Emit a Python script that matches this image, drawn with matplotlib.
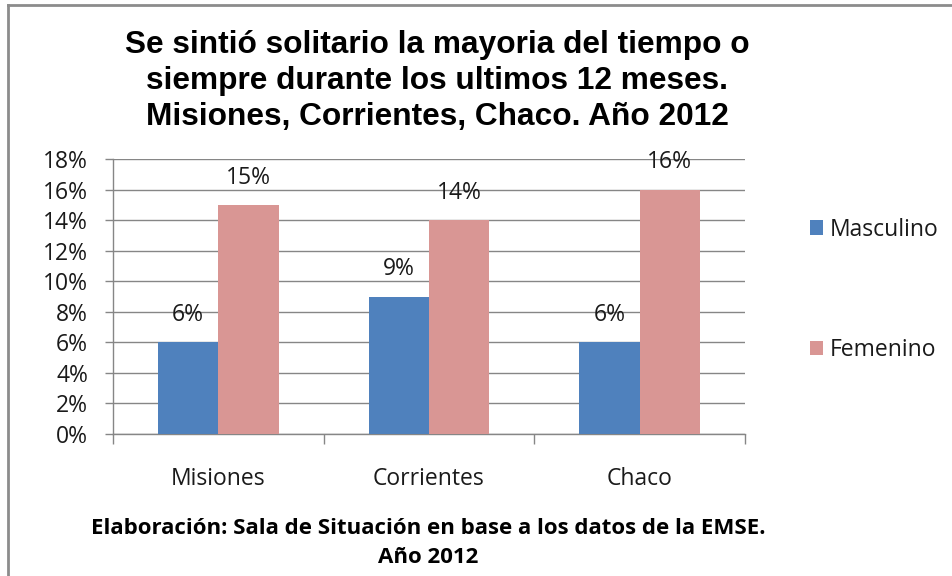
import matplotlib
matplotlib.use("Agg")
import matplotlib.pyplot as plt
from matplotlib.lines import Line2D
import numpy as np

categories = ["Misiones", "Corrientes", "Chaco"]
masculino = [6, 9, 6]
femenino = [15, 14, 16]
series_names = ["Masculino", "Femenino"]
yticks = [0, 2, 4, 6, 8, 10, 12, 14, 16, 18]
title = ("Se sintió solitario la mayoria del tiempo o\n"
         "siempre durante los ultimos 12 meses.\n"
         "Misiones, Corrientes, Chaco. Año 2012")
footer = ("Elaboración: Sala de Situación en base a los datos de la EMSE.\n"
          "Año 2012")

BLUE = "#4F81BD"
PINK = "#D99694"
GRID = "#868686"
TXT = "#1a1a1a"
body_font = "Open Sans"
FS = 16.5

fig = plt.figure(figsize=(9.52, 5.76), dpi=100)
ax = fig.add_axes([113/952, 1-434/576, (745-113)/952, (434-159)/576])

x = np.arange(len(categories)) + 0.5
w = 0.287
b1 = ax.bar(x - w/2, masculino, w, color=BLUE, label=series_names[0], zorder=3)
b2 = ax.bar(x + w/2, femenino, w, color=PINK, label=series_names[1], zorder=3)

for bars, vals in ((b1, masculino), (b2, femenino)):
    for r, v in zip(bars, vals):
        ax.annotate(f"{v}%", (r.get_x() + r.get_width()/2, v),
                    xytext=(0, 19.5), textcoords="offset points",
                    ha="center", va="center", fontsize=FS,
                    family=body_font, color=TXT, zorder=4)

ax.set_xlim(0, 3)
ax.set_ylim(0, 18)
ax.set_yticks(yticks)
ax.set_yticklabels([f"{t}%" for t in yticks], family=body_font, fontsize=FS, color=TXT)
ax.yaxis.grid(True, color=GRID, linewidth=1.0, zorder=0)
ax.set_axisbelow(True)

ax.set_xticks([0, 1, 2, 3])
ax.set_xticklabels([])
ax.set_xticks(x, minor=True)
ax.set_xticklabels(categories, minor=True, family=body_font, fontsize=FS, color=TXT)
ax.tick_params(axis="x", which="minor", length=0, pad=24)
ax.tick_params(axis="x", which="major", length=7, color=GRID, width=1)
ax.tick_params(axis="y", length=6, color=GRID, width=1, pad=12)

for s in ("top", "right"):
    ax.spines[s].set_visible(False)
for s in ("left", "bottom"):
    ax.spines[s].set_color(GRID)
    ax.spines[s].set_linewidth(1)

leg = ax.legend(loc="upper left", bbox_to_anchor=(789/952, 1-197/576),
                bbox_transform=fig.transFigure, frameon=False,
                prop={"family": body_font, "size": FS},
                handlelength=0.6, handleheight=0.6, handletextpad=0.3,
                labelspacing=4.2)
for t in leg.get_texts():
    t.set_color(TXT)

fig.text(437/952, 1-81/576, title, ha="center", va="center",
         family="Liberation Sans", fontweight="bold", fontsize=22.8,
         linespacing=1.26, color="black")

fig.text(428/952, 1-543/576, footer, ha="center", va="center",
         family=body_font, fontweight="bold", fontsize=16,
         linespacing=1.5, color="black")

# outer frame lines (top and left)
fig.add_artist(Line2D([8/952, 1], [1-4.5/576, 1-4.5/576], transform=fig.transFigure,
                      color="#8c8c8c", linewidth=2))
fig.add_artist(Line2D([8/952, 8/952], [0, 1-4.5/576], transform=fig.transFigure,
                      color="#8c8c8c", linewidth=2))

fig.savefig("out.png", dpi=100)
